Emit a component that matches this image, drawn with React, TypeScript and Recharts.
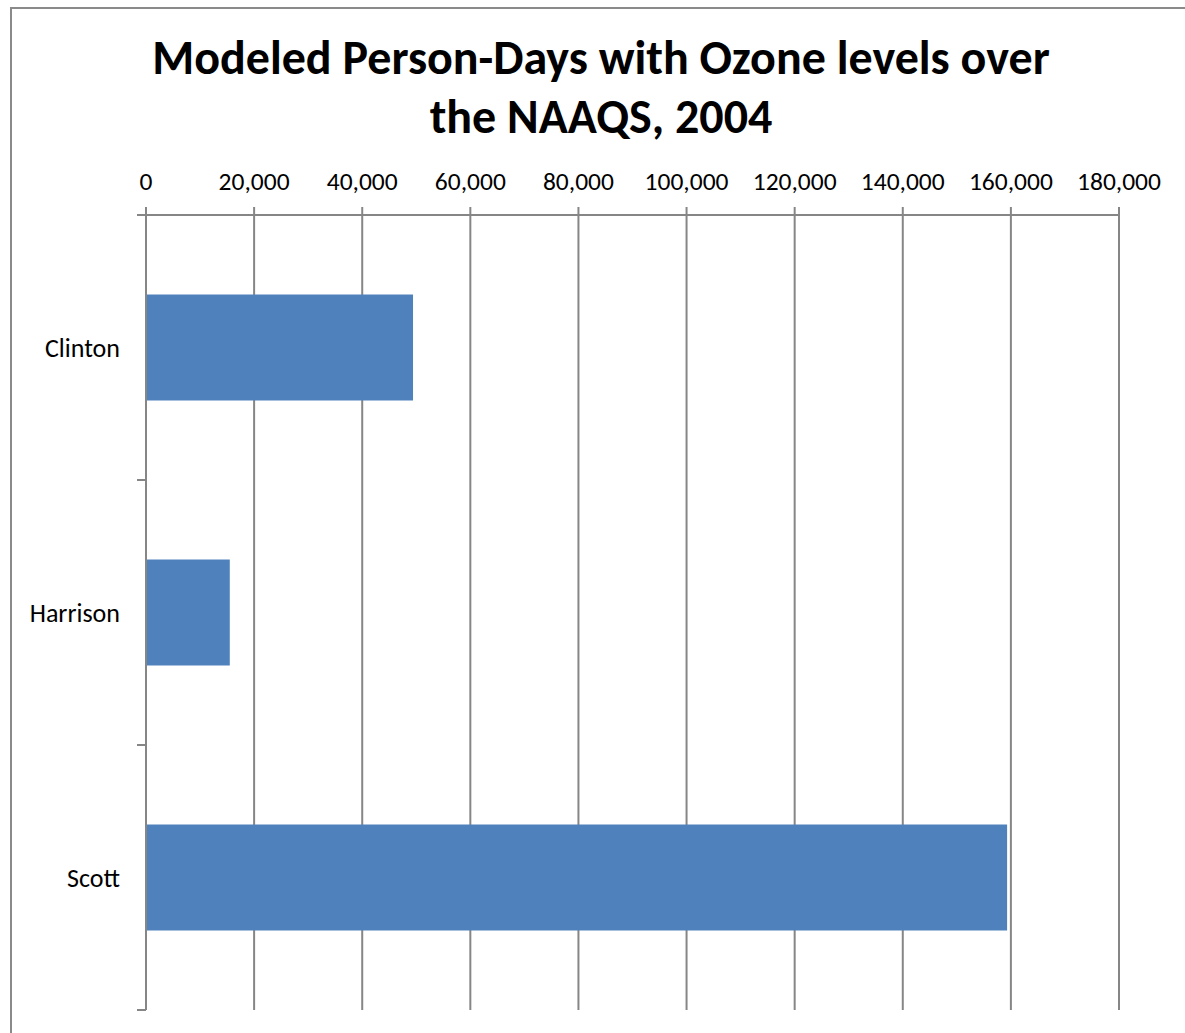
import { BarChart, Bar, XAxis, YAxis, CartesianGrid } from "recharts";

const counties = ["Clinton", "Harrison", "Scott"];
const personDays = [49400, 15500, 159300];
const xTicks = [0, 20000, 40000, 60000, 80000, 100000, 120000, 140000, 160000, 180000];

const data = counties.map((c, i) => ({ county: c, days: personDays[i] }));

const W = 1185;
const H = 1033;
const PLOT_TOP = 215;
const PLOT_BOTTOM = 1010;
const PLOT_LEFT = 146;
const PLOT_RIGHT = 1119;
const BAND = (PLOT_BOTTOM - PLOT_TOP) / counties.length;

const FONT = "Carlito, Calibri, Lato, sans-serif";
const GRAY = "#868686";

function CountyTick(props: any) {
  const { x, y, payload, index } = props;
  const ax = x + 26;
  return (
    <g>
      <text x={x} y={y} textAnchor="end" dominantBaseline="central" fontFamily={FONT} fontSize={26} fill="#000">
        {payload.value}
      </text>
      <line x1={ax - 9} x2={ax} y1={y - BAND / 2} y2={y - BAND / 2} stroke={GRAY} strokeWidth={2} />
      {index === counties.length - 1 && (
        <line x1={ax - 9} x2={ax} y1={y + BAND / 2} y2={y + BAND / 2} stroke={GRAY} strokeWidth={2} />
      )}
    </g>
  );
}

export default function App() {
  return (
    <div style={{ position: "absolute", left: 0, top: 0, width: W, height: H, overflow: "hidden", background: "#fff" }}>
      <div
        style={{
          position: "absolute",
          left: 10,
          top: 7,
          width: 1200,
          height: 1100,
          border: "2px solid #8a8a8a",
          boxSizing: "border-box",
        }}
      />
      <svg width={W} height={160} style={{ position: "absolute", left: 0, top: 0 }}>
        <text x={601} y={74} textAnchor="middle" fontFamily={FONT} fontWeight="bold" fontSize={48} fill="#000">
          Modeled Person-Days with Ozone levels over
        </text>
        <text x={601} y={133} textAnchor="middle" fontFamily={FONT} fontWeight="bold" fontSize={48} fill="#000">
          the NAAQS, 2004
        </text>
      </svg>
      <div style={{ position: "absolute", left: 0, top: 0 }}>
        <BarChart
          width={W}
          height={H}
          data={data}
          layout="vertical"
          barCategoryGap="30%"
          margin={{ top: PLOT_TOP - 50, left: PLOT_LEFT - 120, right: W - PLOT_RIGHT, bottom: H - PLOT_BOTTOM }}
        >
          <CartesianGrid horizontal={false} stroke={GRAY} strokeWidth={2} strokeDasharray="" />
          <XAxis
            type="number"
            orientation="top"
            height={50}
            domain={[0, 180000]}
            ticks={xTicks}
            interval={0}
            tickFormatter={(v: number) => v.toLocaleString("en-US")}
            tickSize={8}
            tickMargin={17}
            tick={{ fontFamily: FONT, fontSize: 25.5, fill: "#000" }}
            stroke={GRAY}
            strokeWidth={2}
            tickLine={{ stroke: GRAY, strokeWidth: 2 }}
          />
          <YAxis
            type="category"
            dataKey="county"
            width={120}
            tickSize={9}
            tickMargin={17}
            tickLine={false}
            tick={<CountyTick />}
            stroke={GRAY}
            strokeWidth={2}
          />
          <Bar dataKey="days" fill="#4F81BD" isAnimationActive={false} />
        </BarChart>
      </div>
    </div>
  );
}
